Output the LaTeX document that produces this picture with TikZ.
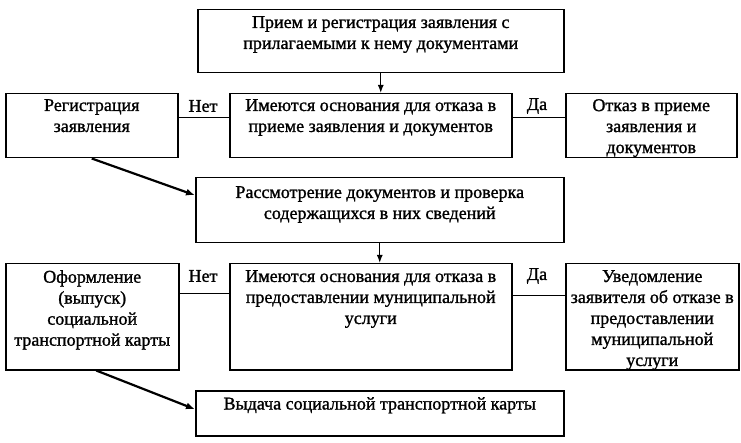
\documentclass[tikz,border=0pt]{standalone}
\usepackage{fontspec}
\setmainfont[FakeBold=1.2]{Liberation Serif}
\usetikzlibrary{arrows.meta}
\begin{document}
\begin{tikzpicture}[x=1pt,y=-1pt,
 box/.style={draw, line width=1.5pt, inner sep=0pt, anchor=north west},
 txt/.style={anchor=north, align=center, inner sep=0pt, font=\fontsize{18}{21}\selectfont},
 lbl/.style={anchor=center, inner sep=0pt, font=\fontsize{18}{21}\selectfont},
 arr/.style={line width=1.4pt, -{Latex[length=8pt,width=6pt]}},
 darr/.style={line width=2.2pt, -{Latex[length=9pt,width=7pt]}},
 conn/.style={line width=1pt}]
\useasboundingbox (0,0) rectangle (741,443);
% row 0
\node[box, minimum width=366pt, minimum height=63pt] (b1) at (197,9) {};
\node[txt] (t1) at ([yshift=-7pt]b1.north) {Прием и регистрация заявления с\\прилагаемыми к нему документами};
% row 1
\node[box, minimum width=282pt, minimum height=64pt] (b2) at (229,93) {};
\node[txt] (t2) at ([yshift=-6pt]b2.north) {Имеются основания для отказа в\\приеме заявления и документов};
\node[box, minimum width=172pt, minimum height=64pt] (l1) at (5,93) {};
\node[txt] (tl1) at ([yshift=-6pt]l1.north) {Регистрация\\заявления};
\node[box, minimum width=171pt, minimum height=64pt] (r1) at (565,93) {};
\node[txt] (tr1) at ([yshift=-6pt]r1.north) {Отказ в приеме\\заявления и\\документов};
% row 2
\node[box, minimum width=368pt, minimum height=65pt] (b3) at (195,177) {};
\node[txt] (t3) at ([yshift=-9pt]b3.north) {Рассмотрение документов и проверка\\содержащихся в них сведений};
% row 3
\node[box, minimum width=282pt, minimum height=106pt] (b4) at (229,263) {};
\node[txt] (t4) at ([yshift=-7pt]b4.north) {Имеются основания для отказа в\\предоставлении муниципальной\\услуги};
\node[box, minimum width=173pt, minimum height=106pt] (l2) at (5,263) {};
\node[txt] (tl2) at ([yshift=-7pt]l2.north) {Оформление\\(выпуск)\\социальной\\транспортной карты};
\node[box, minimum width=173pt, minimum height=106pt] (r2) at (565,263) {};
\node[txt] (tr2) at ([yshift=-7pt]r2.north) {Уведомление\\заявителя об отказе в\\предоставлении\\муниципальной\\услуги};
% row 4
\node[box, minimum width=368pt, minimum height=45pt] (b5) at (195,390) {};
\node[txt] (t5) at ([yshift=-7pt]b5.north) {Выдача социальной транспортной карты};
% labels
\node[lbl] (n1) at (203,106) {Нет};
\node[lbl] (d1) at (537,106) {Да};
\node[lbl] (n2) at (203,276) {Нет};
\node[lbl] (d2) at (537,276) {Да};
% connectors
\draw[arr] (b1.south) -- (b1.south |- b2.north);
\draw[conn] ([yshift=8.5pt]b2.west) -- ([yshift=8.5pt]b2.west -| l1.east);
\draw[conn] ([yshift=8.5pt]b2.east) -- ([yshift=8.5pt]b2.east -| r1.west);
\draw[darr] (l1.south) -- ([yshift=15pt]b3.west);
\draw[arr] (b3.south) -- (b3.south |- b4.north);
\draw[conn] ([yshift=23pt]b4.west) -- ([yshift=23pt]b4.west -| l2.east);
\draw[conn] ([yshift=21pt]b4.east) -- ([yshift=21pt]b4.east -| r2.west);
\draw[darr] ([xshift=4pt]l2.south) -- ([yshift=4pt]b5.west);
\end{tikzpicture}
\end{document}
